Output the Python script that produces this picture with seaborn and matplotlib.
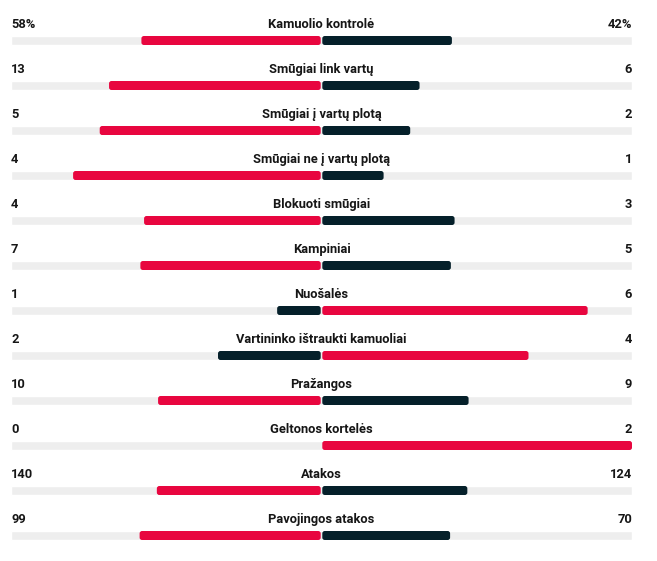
import matplotlib
matplotlib.use("Agg")
import matplotlib.pyplot as plt
from matplotlib.patches import FancyBboxPatch
import seaborn as sns
import pandas as pd

labels = ["Kamuolio kontrolė", "Smūgiai link vartų", "Smūgiai į vartų plotą",
          "Smūgiai ne į vartų plotą", "Blokuoti smūgiai", "Kampiniai", "Nuošalės",
          "Vartininko ištraukti kamuoliai", "Pražangos", "Geltonos kortelės",
          "Atakos", "Pavojingos atakos"]
home = [58, 13, 5, 4, 4, 7, 1, 2, 10, 0, 140, 99]
away = [42, 6, 2, 1, 3, 5, 6, 4, 9, 2, 124, 70]
suffix = ["%", "", "", "", "", "", "", "", "", "", "", ""]

RED = "#E8063F"
DARK = "#05202A"
TRACK = "#EEEEEE"
TXT = "#161616"

sns.set_theme(style="white")
plt.rcParams["font.family"] = ["Roboto", "DejaVu Sans"]

W, H = 657, 561
fig = plt.figure(figsize=(W / 100, H / 100), dpi=100)
fig.patch.set_facecolor("white")
x0, x1 = 11, 632
ax = fig.add_axes([x0 / W, 0, (x1 - x0) / W, 1])

tot = [h + a for h, a in zip(home, away)]
home_share = [-h / t for h, t in zip(home, tot)]
away_share = [a / t for a, t in zip(away, tot)]
home_col = [RED if h > a else DARK for h, a in zip(home, away)]
away_col = [RED if a > h else DARK for h, a in zip(home, away)]

df = pd.DataFrame({"label": labels, "home": home_share, "away": away_share})
n = len(labels)
bh = 9 / 45

ax.barh(range(n), [2] * n, left=-1, height=bh, color=TRACK, zorder=1)
sns.barplot(data=df, x="home", y="label", hue="label", palette=home_col,
            orient="h", width=bh, legend=False, ax=ax, saturation=1)
sns.barplot(data=df, x="away", y="label", hue="label", palette=away_col,
            orient="h", width=bh, legend=False, ax=ax, saturation=1)

ax.set_xlim(-1, 1)
ax.set_ylim((H - 40.5) / 45, -40.5 / 45)

px_x = 2 / (x1 - x0)
px_y = 1 / 45
asp = px_y / px_x
gap = 0.8 * px_x
for p in list(ax.patches):
    if p.get_facecolor()[:3] == matplotlib.colors.to_rgb(TRACK):
        continue
    x, y = p.get_x(), p.get_y()
    w, h = p.get_width(), p.get_height()
    if w == 0:
        p.remove()
        continue
    if w < 0:
        x, w = x + w, -w
        w -= gap
    else:
        x += gap
        w -= gap
    fc = p.get_facecolor()
    p.remove()
    fb = FancyBboxPatch((x, y), w, h,
                        boxstyle=f"round,pad=0,rounding_size={2.5 * px_x}",
                        mutation_aspect=asp, facecolor=fc, edgecolor="none",
                        zorder=3)
    ax.add_patch(fb)

off = -16 / 45
fs = 9.3
for i in range(n):
    ax.text(-1, i + off, f"{home[i]}{suffix[i]}", ha="left", va="center",
            fontsize=fs, fontweight="bold", color=TXT)
    ax.text(1, i + off, f"{away[i]}{suffix[i]}", ha="right", va="center",
            fontsize=fs, fontweight="bold", color=TXT)
    ax.text(0, i + off, labels[i], ha="center", va="center",
            fontsize=fs, fontweight="bold", color=TXT)

ax.axis("off")
fig.savefig("out.png", dpi=100, facecolor="white")
